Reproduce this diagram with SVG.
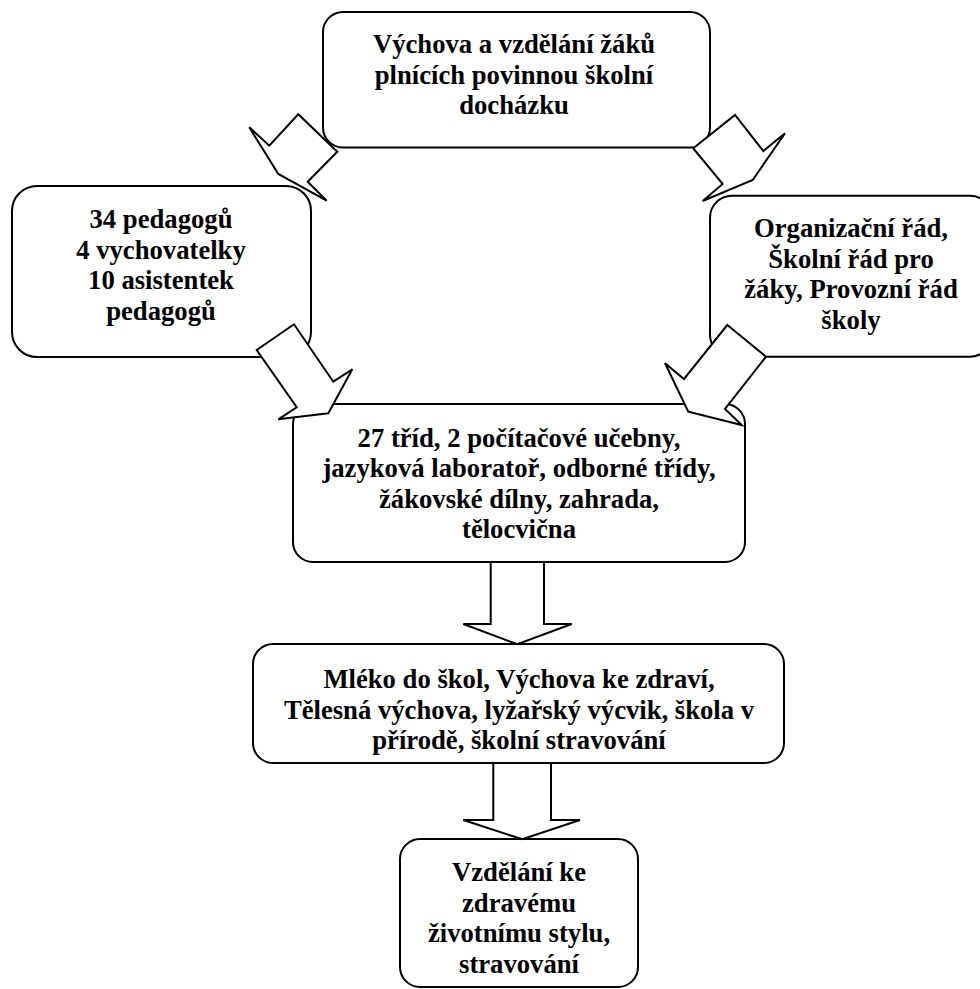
<svg xmlns="http://www.w3.org/2000/svg" width="980" height="989" viewBox="0 0 980 989">
<style>
.box{fill:#fff;stroke:#000;stroke-width:2}
.arr{fill:#fff;stroke:#000;stroke-width:2;stroke-linejoin:miter}
text{font-family:"Liberation Serif","Times New Roman",serif;font-weight:bold;font-size:26.67px;fill:#000;text-anchor:middle}
</style>
<rect width="980" height="989" fill="#fff"/>
<g id="nodes">
<g id="n-top">
<rect class="box" x="323" y="12" width="387" height="135.5" rx="20" ry="20"/>
<text x="514" y="53.3">Výchova a vzdělání žáků</text>
<text x="514" y="83.8">plnících povinnou školní</text>
<text x="514" y="114.3">docházku</text>
</g>
<g id="n-left">
<rect class="box" x="12" y="186" width="299" height="171" rx="25" ry="25"/>
<text x="161" y="228">34 pedagogů</text>
<text x="161" y="258.5">4 vychovatelky</text>
<text x="161" y="289">10 asistentek</text>
<text x="161" y="319.5">pedagogů</text>
</g>
<g id="n-right">
<rect class="box" x="710" y="195.7" width="282" height="161" rx="22" ry="22"/>
<text x="851" y="237">Organizační řád,</text>
<text x="851" y="267.5">Školní řád pro</text>
<text x="851" y="298">žáky, Provozní řád</text>
<text x="851" y="328.5">školy</text>
</g>
<g id="n-mid">
<rect class="box" x="293" y="404" width="452" height="158" rx="20" ry="20"/>
<text x="519" y="446.5">27 tříd, 2 počítačové učebny,</text>
<text x="519" y="477">jazyková laboratoř, odborné třídy,</text>
<text x="519" y="507.5">žákovské dílny, zahrada,</text>
<text x="519" y="538">tělocvična</text>
</g>
<g id="n-health">
<rect class="box" x="253" y="644" width="531" height="119" rx="20" ry="20"/>
<text x="519" y="688">Mléko do škol, Výchova ke zdraví,</text>
<text x="519" y="718.5">Tělesná výchova, lyžařský výcvik, škola v</text>
<text x="519" y="749">přírodě, školní stravování</text>
</g>
<g id="n-bottom">
<rect class="box" x="400" y="839" width="238" height="148" rx="20" ry="20"/>
<text x="519" y="881">Vzdělání ke</text>
<text x="519" y="911.5">zdravému</text>
<text x="519" y="942">životnímu stylu,</text>
<text x="519" y="972.5">stravování</text>
</g>
</g>
<g id="connectors">
<polygon class="arr" points="249.3,127.3 269.3,145.7 298.3,114.3 337.3,151.7 307.7,181.7 326.7,200.7 278.3,174"/>
<polygon class="arr" points="693.3,148.3 735,115 763.3,151 785,133.3 752.7,180 702.7,201 722.7,184"/>
<polygon class="arr" points="256.7,350 294,324.3 333.3,381.7 352.3,369.3 328.3,413.3 278.3,419.3 296.7,407.3"/>
<polygon class="arr" points="727.3,325 766,356.7 725,409 741.7,425 688.3,411.7 665,363.3 684,379"/>
<polygon class="arr" points="490.7,562 490.7,624 463.3,624 517.3,644.3 571.7,624 544,624 544,562"/>
<polygon class="arr" points="493.3,763 493.3,820 463.3,820 522.3,839.3 580,820 551,820 551,763"/>
</g>
</svg>
